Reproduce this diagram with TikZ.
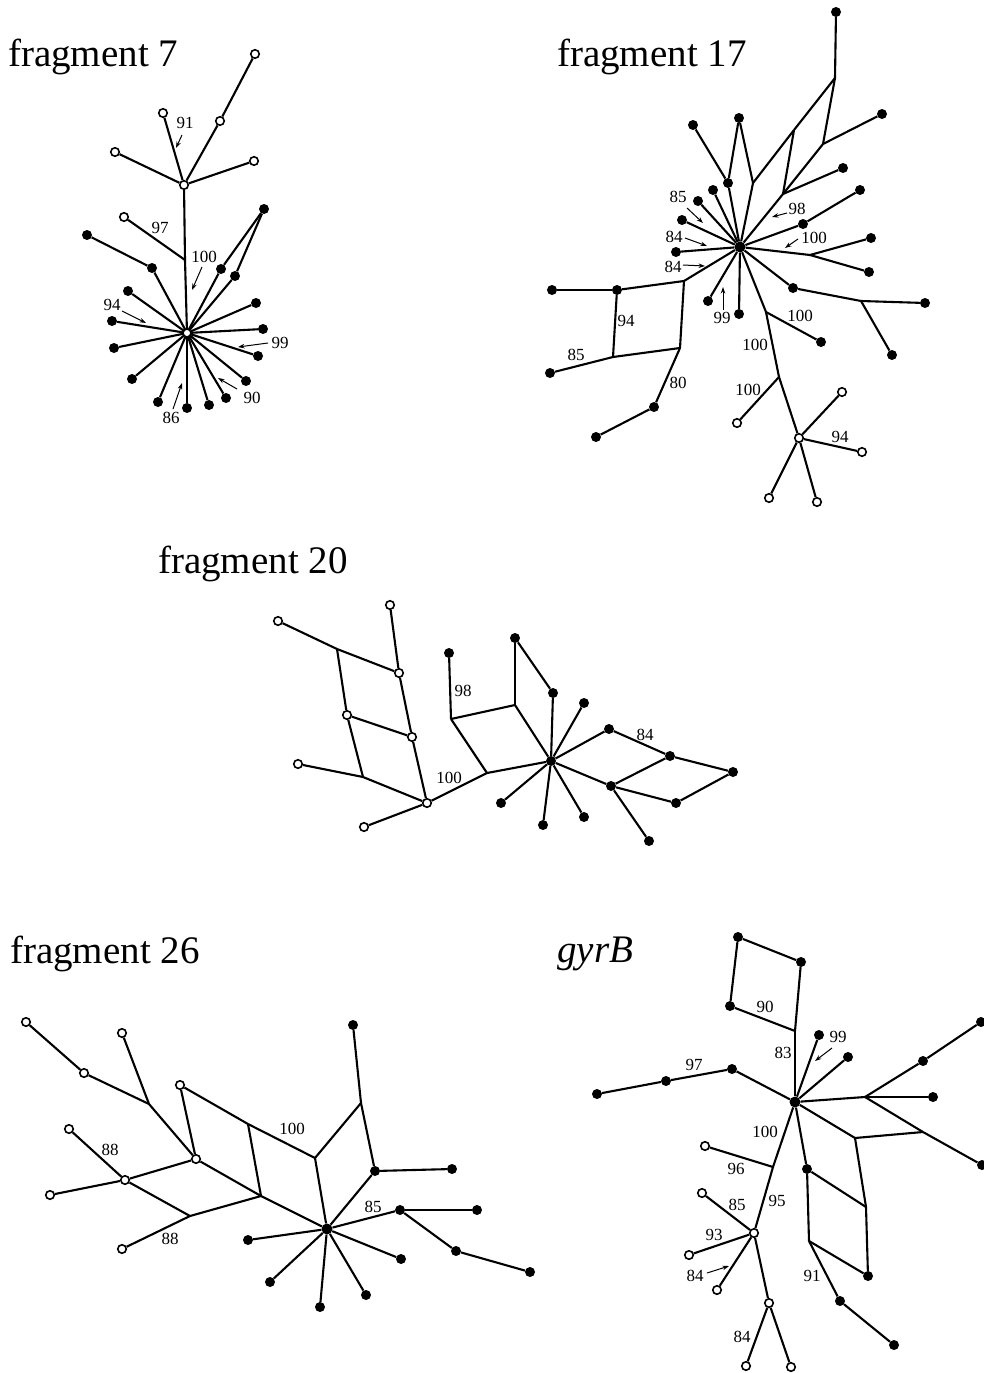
\documentclass[tikz,border=0pt]{standalone}
\usepackage{fontspec}
\setmainfont{Liberation Serif}
\usetikzlibrary{arrows.meta}
\tikzset{
  fd/.style={circle,fill=black,inner sep=0pt,minimum size=10pt},
  od/.style={circle,draw=black,fill=white,line width=1.6pt,inner sep=0pt,minimum size=8.5pt},
  ln/.style={line width=2.1pt},
  lab/.style={inner sep=0pt,font=\fontsize{17}{19}\selectfont},
  arr/.style={line width=1pt,-{Stealth[length=6.5pt,width=4.5pt]}},
  ttl/.style={anchor=base west,inner sep=0pt,font=\fontsize{39}{44}\selectfont}
}
\begin{document}
\begin{tikzpicture}[x=1pt,y=-1pt]
\useasboundingbox (0,0) rectangle (984,1373);
% ---------------- titles
\node[ttl] (t7) at (8,66) {fragment 7};
\node[ttl] (t17) at (557,66) {fragment 17};
\node[ttl] (t20) at (158,573) {fragment 20};
\node[ttl] (t26) at (10,963) {fragment 26};
\node[ttl] (tg) at (557,962) {\itshape gyrB};
% ---------------- fragment 7
\coordinate (aj) at (185,260);
\foreach \n/\x/\y in {a1/255/54,a2/220/121,a3/163/113,a4/115/152,a5/254/161,a0/184/185,a6/124/217}
  \node[od] (\n) at (\x,\y) {};
\foreach \n/\x/\y in {b1/87/235,b2/152/268,b3/264/209,b4/221/269,b5/235/276,b6/128/291,b7/112/321,b8/114/348,b9/132/379,b10/158/402,b11/187/408,b12/209/405,b13/226/398,b14/246/381,b15/258/356,b16/263/329,b17/256/303}
  \node[fd] (\n) at (\x,\y) {};
\coordinate (ah) at (187,333);
\foreach \a/\b in {a1/a2,a2/a0,a3/a0,a4/a0,a5/a0,a0/aj,aj/ah,aj/a6,b1/b2,b2/ah,b3/b4,b4/ah,b3/b5,b5/ah,b6/ah,b7/ah,b8/ah,b9/ah,b10/ah,b11/ah,b12/ah,b13/ah,b14/ah,b15/ah,b16/ah,b17/ah}
  \draw[ln] (\a) -- (\b);
\node[circle,fill=white,inner sep=0pt,minimum size=6pt] (ahw) at (ah) {};
\node[lab] (l7a) at (185,123) {91};
\node[lab] (l7b) at (160,228) {97};
\node[lab] (l7c) at (204,257) {100};
\node[lab] (l7d) at (112,305) {94};
\node[lab] (l7e) at (280,343) {99};
\node[lab] (l7f) at (252,398) {90};
\node[lab] (l7g) at (171,418) {86};
\coordinate (r7a1) at (182,135); \coordinate (r7a2) at (176,148);
\coordinate (r7c1) at (202,267); \coordinate (r7c2) at (192,290);
\coordinate (r7d1) at (122,311); \coordinate (r7d2) at (146,323);
\coordinate (r7e1) at (268,343); \coordinate (r7e2) at (238,347);
\coordinate (r7f1) at (237,389); \coordinate (r7f2) at (218,378);
\coordinate (r7g1) at (173,409); \coordinate (r7g2) at (182,383);
\foreach \a/\b in {r7a1/r7a2,r7c1/r7c2,r7d1/r7d2,r7e1/r7e2,r7f1/r7f2,r7g1/r7g2}
  \draw[arr] (\a) -- (\b);
% ---------------- fragment 17
\foreach \n/\x/\y in {cj1/753/183,cj2/794/130,cj3/835/78,cj4/823/144,cj5/783/194,cj6/810/255,cj7/861/301,cj8/766/312,cj9/779/377,cj10/684/281,cj11/613/357,cj12/680/348}
  \coordinate (\n) at (\x,\y);
\node[fd,minimum size=11pt] (c0) at (740,247) {};
\foreach \n/\x/\y in {c1/693/125,c2/739/118,c3/728/183,c4/713/190,c5/698/201,c6/682/220,c7/676/252,c8/836/12,c9/882/114,c10/843/168,c11/860/190,c12/803/224,c13/871/238,c14/869/272,c15/793/288,c16/925/303,c17/892/355,c18/708/301,c19/739/314,c20/821/342,c21/617/290,c22/552/290,c23/550/373,c24/654/407,c25/596/437}
  \node[fd] (\n) at (\x,\y) {};
\foreach \n/\x/\y in {o1/737/423,oh/799/438,o2/842/392,o3/862/452,o4/769/498,o5/817/502}
  \node[od] (\n) at (\x,\y) {};
\foreach \a/\b in {c1/c3,c3/c0,c2/c3,c2/cj1,cj1/c0,cj1/cj2,cj2/cj3,cj3/c8,cj3/cj4,cj4/c9,cj4/cj5,cj2/cj5,cj5/c10,cj5/c0,c11/c12,c12/c0,c0/cj6,cj6/c13,cj6/c14,c0/c15,c15/cj7,cj7/c16,cj7/c17,c0/c18,c0/c19,c0/cj8,cj8/c20,cj8/cj9,cj9/o1,cj9/oh,oh/o2,oh/o3,oh/o4,oh/o5,c4/c0,c5/c0,c6/c0,c7/c0,c0/cj10,cj10/c21,c21/c22,c21/cj11,cj10/cj12,cj11/cj12,cj11/c23,cj12/c24,c24/c25}
  \draw[ln] (\a) -- (\b);
\node[lab] (l17a) at (678,197) {85};
\node[lab] (l17b) at (674,237) {84};
\node[lab] (l17c) at (673,267) {84};
\node[lab] (l17d) at (722,318) {99};
\node[lab] (l17e) at (797,209) {98};
\node[lab] (l17f) at (814,238) {100};
\node[lab] (l17g) at (800,316) {100};
\node[lab] (l17h) at (755,345) {100};
\node[lab] (l17i) at (748,390) {100};
\node[lab] (l17j) at (840,437) {94};
\node[lab] (l17k) at (626,321) {94};
\node[lab] (l17l) at (576,355) {85};
\node[lab] (l17m) at (678,383) {80};
\coordinate (r17a1) at (687,208); \coordinate (r17a2) at (703,223);
\coordinate (r17b1) at (685,238); \coordinate (r17b2) at (707,246);
\coordinate (r17c1) at (683,265); \coordinate (r17c2) at (705,266);
\coordinate (r17d1) at (723,310); \coordinate (r17d2) at (723,287);
\coordinate (r17e1) at (787,213); \coordinate (r17e2) at (772,217);
\coordinate (r17f1) at (798,239); \coordinate (r17f2) at (785,248);
\foreach \a/\b in {r17a1/r17a2,r17b1/r17b2,r17c1/r17c2,r17d1/r17d2,r17e1/r17e2,r17f1/r17f2}
  \draw[arr] (\a) -- (\b);
% ---------------- fragment 20
\foreach \n/\x/\y in {dj1/337/649,dj2/363/777,dj3/487/773,dj4/451/719,dj5/515/705}
  \coordinate (\n) at (\x,\y);
\foreach \n/\x/\y in {d1/278/621,d2/390/605,d3/399/673,d4/347/715,d5/412/737,d6/298/764,dh/427/803,d7/364/827}
  \node[od] (\n) at (\x,\y) {};
\foreach \n/\x/\y in {e1/449/653,e2/515/638,e3/553/693,eh/551/761,e4/584/703,e5/609/729,e6/670/756,e7/733/772,e8/611/786,e9/676/803,e10/649/841,e11/501/803,e12/543/825,e13/584/817}
  \node[fd] (\n) at (\x,\y) {};
\foreach \a/\b in {d1/dj1,dj1/d3,d2/d3,dj1/d4,d3/d5,d4/d5,d4/dj2,d6/dj2,dj2/dh,d5/dh,dh/d7,dh/dj3,e1/dj4,dj4/dj5,e2/dj5,e2/e3,e3/eh,dj5/eh,dj4/dj3,dj3/eh,eh/e4,eh/e5,e5/e6,e6/e7,eh/e8,e8/e6,e8/e9,e9/e7,e8/e10,eh/e11,eh/e12,eh/e13}
  \draw[ln] (\a) -- (\b);
\node[lab] (l20a) at (449,778) {100};
\node[lab] (l20b) at (463,691) {98};
\node[lab] (l20c) at (645,735) {84};
% ---------------- fragment 26
\foreach \n/\x/\y in {fj1/149/1104,fj2/248/1124,fj3/261/1196,fj4/190/1216,gj1/361/1103,gj2/315/1158}
  \coordinate (\n) at (\x,\y);
\foreach \n/\x/\y in {f1/26/1022,f2/84/1073,f3/122/1033,f4/196/1159,f5/180/1085,f6/125/1180,f7/69/1129,f8/50/1195,f9/122/1249}
  \node[od] (\n) at (\x,\y) {};
\node[fd,minimum size=11pt] (gh) at (327,1229) {};
\foreach \n/\x/\y in {g1/353/1025,g2/375/1171,g3/452/1169,g4/400/1210,g5/477/1210,g6/456/1251,g7/530/1272,g8/248/1240,g9/401/1259,g10/270/1282,g11/320/1307,g12/366/1295}
  \node[fd] (\n) at (\x,\y) {};
\foreach \a/\b in {f1/f2,f2/fj1,f3/fj1,fj1/f4,f5/f4,f5/fj2,fj2/gj2,fj2/fj3,f4/fj3,f6/f4,f7/f6,f8/f6,f6/fj4,fj4/fj3,f9/fj4,fj3/gh,g1/gj1,gj1/gj2,gj2/gh,gj1/g2,g2/gh,g2/g3,gh/g4,g4/g5,g4/g6,g6/g7,gh/g8,gh/g9,gh/g10,gh/g11,gh/g12}
  \draw[ln] (\a) -- (\b);
\node[lab] (l26a) at (110,1150) {88};
\node[lab] (l26b) at (170,1239) {88};
\node[lab] (l26c) at (292,1129) {100};
\node[lab] (l26d) at (373,1207) {85};
% ---------------- gyrB
\foreach \n/\x/\y in {hj1/795/1031,hj2/865/1097,hj3/923/1132,hj4/855/1138,hj5/866/1207,hj6/809/1241,hj7/773/1167}
  \coordinate (\n) at (\x,\y);
\node[fd,minimum size=11pt] (hh) at (795,1102) {};
\foreach \n/\x/\y in {h1/738/937,h2/801/962,h3/730/1006,h4/819/1035,h5/848/1057,h6/732/1069,h7/666/1081,h8/597/1094,h9/923/1061,h10/981/1022,h11/933/1097,h12/982/1165,h13/807/1169,h14/868/1276,h15/840/1301,h16/894/1345}
  \node[fd] (\n) at (\x,\y) {};
\foreach \n/\x/\y in {p1/705/1146,ph/754/1233,p2/702/1193,p3/689/1255,p4/717/1290,p5/769/1303,p6/746/1366,p7/791/1367}
  \node[od] (\n) at (\x,\y) {};
\foreach \a/\b in {h1/h2,h1/h3,h3/hj1,h2/hj1,hj1/hh,hh/h4,hh/h5,hh/h6,h6/h7,h7/h8,hh/hj2,hj2/h9,h9/h10,hj2/h11,hj2/hj3,hj3/h12,hh/hj4,hj4/hj3,hj4/hj5,hh/h13,h13/hj5,hj5/h14,h13/hj6,hj6/h14,hj6/h15,h15/h16,hh/hj7,hj7/p1,hj7/ph,p2/ph,p3/ph,p4/ph,ph/p5,p5/p6,p5/p7}
  \draw[ln] (\a) -- (\b);
\node[lab] (lga) at (765,1007) {90};
\node[lab] (lgb) at (783,1053) {83};
\node[lab] (lgc) at (838,1037) {99};
\node[lab] (lgd) at (694,1065) {97};
\node[lab] (lge) at (765,1132) {100};
\node[lab] (lgf) at (736,1169) {96};
\node[lab] (lgg) at (777,1201) {95};
\node[lab] (lgh) at (737,1205) {85};
\node[lab] (lgi) at (714,1235) {93};
\node[lab] (lgj) at (695,1276) {84};
\node[lab] (lgk) at (742,1337) {84};
\node[lab] (lgl) at (812,1276) {91};
\coordinate (rgc1) at (832,1048); \coordinate (rgc2) at (815,1061);
\coordinate (rgj1) at (707,1273); \coordinate (rgj2) at (729,1266);
\foreach \a/\b in {rgc1/rgc2,rgj1/rgj2}
  \draw[arr] (\a) -- (\b);
\end{tikzpicture}
\end{document}
